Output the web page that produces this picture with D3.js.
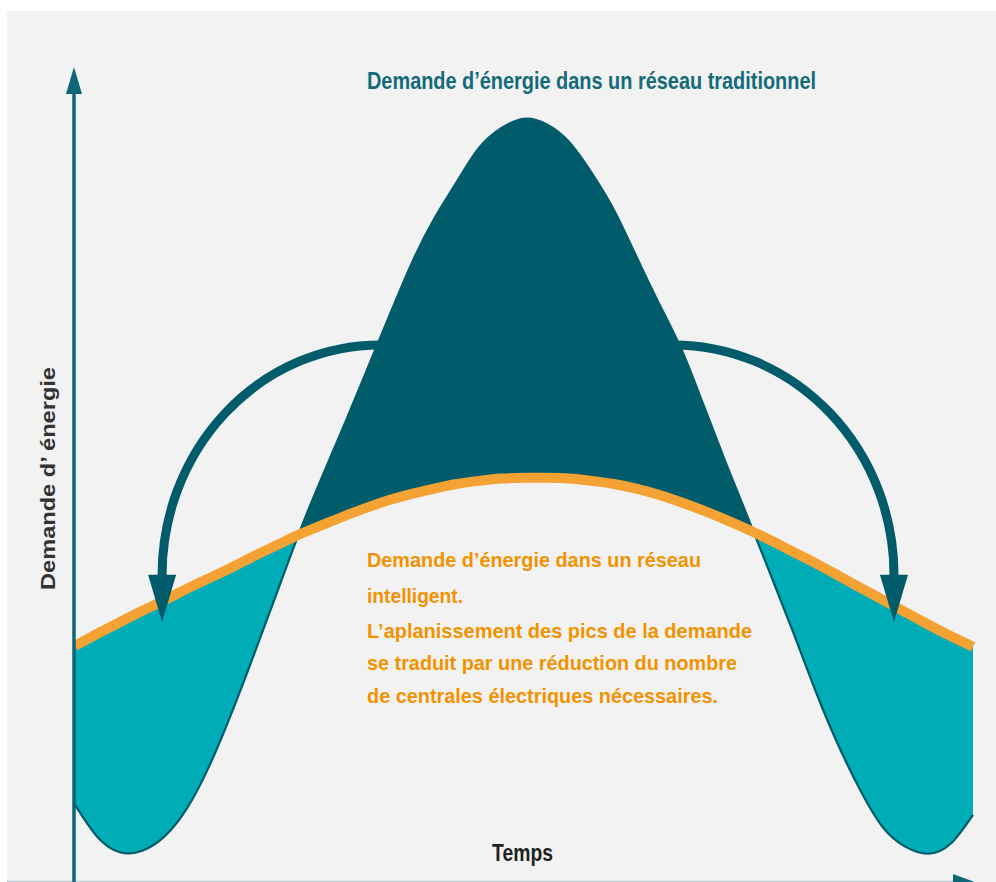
<!DOCTYPE html>
<html lang="fr">
<head>
<meta charset="utf-8">
<title>Demande d'énergie</title>
<script src="https://d3js.org/d3.v7.min.js"></script>
<style>
  body { margin: 0; background: #fff; }
  svg { display: block; }
</style>
</head>
<body>
<script>
// chart data: time (arbitrary units) and demand (% of the traditional peak)
const time = [0, 2.5, 5, 7.5, 10, 12.5, 15, 17.5, 20, 22.5, 25, 27.5, 30, 32.5, 35, 37.5, 40,
  42.5, 45, 47.5, 50, 52.5, 55, 57.5, 60, 62.5, 65, 67.5, 70, 72.5, 75, 77.5, 80, 82.5, 85,
  87.5, 90, 92.5, 95, 97.5, 100];
const traditional = [10.1, 5.9, 3.9, 4.1, 6.0, 9.7, 15.3, 22.3, 30.0, 37.9, 45.8, 53.0, 59.9,
  67.0, 74.1, 81.0, 86.8, 91.6, 96.1, 98.7, 99.9, 99.2, 96.9, 92.9, 88.0, 81.9, 75.8, 69.8,
  62.4, 54.8, 47.5, 40.1, 32.6, 24.9, 17.9, 11.9, 7.1, 4.6, 3.7, 5.0, 8.8];
const smart = [30.9, 32.5, 34.0, 35.5, 36.9, 38.4, 39.8, 41.2, 42.7, 44.1, 45.5, 46.7, 47.9,
  49.0, 50.0, 50.8, 51.5, 52.1, 52.5, 52.8, 52.9, 52.9, 52.8, 52.5, 52.1, 51.5, 50.7, 49.7,
  48.6, 47.4, 46.1, 44.7, 43.2, 41.7, 40.1, 38.5, 36.9, 35.3, 33.7, 32.2, 30.8];

// shifted-demand arrows: [start time, start level, end time, end level, tip level]
const arrowLeft = [34.0, 70.3, 9.7, 40.2, 34.0];
const arrowRight = [66.6, 70.3, 91.2, 40.2, 34.0];

const titleText = "Demande d\u2019énergie dans un réseau traditionnel";
const smartText = [
  "Demande d\u2019énergie dans un réseau",
  "intelligent.",
  "L\u2019aplanissement des pics de la demande",
  "se traduit par une réduction du nombre",
  "de centrales électriques nécessaires."
];
const xLabel = "Temps";
const yLabel = "Demande d\u2019 énergie";

const W = 996, H = 882;
const dark = "#005b6b", cyan = "#00adb6", orange = "#f3a233", axisCol = "#0c6676";
const narrow = "'Liberation Sans Narrow', 'Arial Narrow', 'Liberation Sans', Arial, sans-serif";

const data = time.map((t, i) => ({t: t, trad: traditional[i], smart: smart[i]}));

const x = d3.scaleLinear().domain([0, 100]).range([75, 973]);
const y = d3.scaleLinear().domain([0, 100]).range([882, 118]);

const svg = d3.select("body").append("svg")
  .attr("width", W)
  .attr("height", H);

svg.append("rect")
  .attr("x", 7).attr("y", 11)
  .attr("width", W - 7).attr("height", H - 11)
  .attr("fill", "#f2f2f2");

const curve = d3.curveNatural;

// clip regions above and below the smart-grid line
const defs = svg.append("defs");
defs.append("clipPath").attr("id", "above")
  .append("path")
  .attr("d", d3.area().curve(curve).x(d => x(d.t)).y0(0).y1(d => y(d.smart))(data));
defs.append("clipPath").attr("id", "below")
  .append("path")
  .attr("d", d3.area().curve(curve).x(d => x(d.t)).y0(d => y(d.smart)).y1(H)(data));

const between = d3.area().curve(curve)
  .x(d => x(d.t))
  .y0(d => y(d.smart))
  .y1(d => y(d.trad));

svg.append("path")
  .attr("d", between(data))
  .attr("clip-path", "url(#below)")
  .attr("fill", cyan);

svg.append("path")
  .attr("d", between(data))
  .attr("clip-path", "url(#above)")
  .attr("fill", dark);

svg.append("path")
  .attr("d", d3.line().curve(curve).x(d => x(d.t)).y(d => y(d.trad))(data))
  .attr("fill", "none")
  .attr("stroke", dark)
  .attr("stroke-width", 2.2);

svg.append("path")
  .attr("d", d3.line().curve(curve).x(d => x(d.t)).y(d => y(d.smart))(data))
  .attr("fill", "none")
  .attr("stroke", orange)
  .attr("stroke-width", 10);

// arrows
function arrow(a) {
  const x0 = x(a[0]), y0 = y(a[1]), x1 = x(a[2]), y1 = y(a[3]), yt = y(a[4]);
  const rx = Math.abs(x1 - x0), ry = Math.abs(y1 - y0);
  const sweep = x1 < x0 ? 0 : 1;
  svg.append("path")
    .attr("d", `M${x0},${y0} A${rx},${ry} 0 0 ${sweep} ${x1},${y1 + 2}`)
    .attr("fill", "none")
    .attr("stroke", dark)
    .attr("stroke-width", 9);
  svg.append("path")
    .attr("d", `M${x1 - 14},${y1} L${x1 + 14},${y1} L${x1},${yt} Z`)
    .attr("fill", dark);
}
arrow(arrowLeft);
arrow(arrowRight);

// axes
svg.append("line")
  .attr("x1", 7).attr("x2", 960)
  .attr("y1", 881.5).attr("y2", 881.5)
  .attr("stroke", "#c3cdd1")
  .attr("stroke-width", 1.5);
svg.append("path")
  .attr("d", "M953,874 L980,884 L953,894 Z")
  .attr("fill", axisCol);

svg.append("line")
  .attr("x1", x(0) - 1).attr("x2", x(0) - 1)
  .attr("y1", 90).attr("y2", H)
  .attr("stroke", axisCol)
  .attr("stroke-width", 3.5);
svg.append("path")
  .attr("d", `M${x(0) - 9},94 L${x(0) + 7},94 L${x(0) - 1},67 Z`)
  .attr("fill", axisCol);

// texts
svg.append("text")
  .attr("x", 367).attr("y", 89)
  .attr("font-family", narrow)
  .attr("font-weight", "bold")
  .attr("font-size", 24)
  .attr("fill", "#136b7a")
  .attr("textLength", 449)
  .attr("lengthAdjust", "spacingAndGlyphs")
  .text(titleText);

const lineY = [567, 603, 638, 670, 703];
const lineW = [334, 96, 385, 370, 351];
svg.selectAll("text.smart")
  .data(smartText)
  .enter()
  .append("text")
  .attr("class", "smart")
  .attr("x", 367)
  .attr("y", (d, i) => lineY[i])
  .attr("font-family", narrow)
  .attr("font-weight", "bold")
  .attr("font-size", 21)
  .attr("fill", "#f39200")
  .attr("textLength", (d, i) => lineW[i])
  .attr("lengthAdjust", "spacingAndGlyphs")
  .text(d => d);

svg.append("text")
  .attr("x", 492).attr("y", 861)
  .attr("font-family", narrow)
  .attr("font-weight", "bold")
  .attr("font-size", 23)
  .attr("fill", "#222")
  .attr("textLength", 61)
  .attr("lengthAdjust", "spacingAndGlyphs")
  .text(xLabel);

svg.append("text")
  .attr("transform", "translate(55,590) rotate(-90)")
  .attr("font-family", "'Liberation Sans', Arial, sans-serif")
  .attr("font-weight", "bold")
  .attr("font-size", 20)
  .attr("fill", "#333")
  .attr("textLength", 223)
  .attr("lengthAdjust", "spacingAndGlyphs")
  .text(yLabel);
</script>
</body>
</html>
